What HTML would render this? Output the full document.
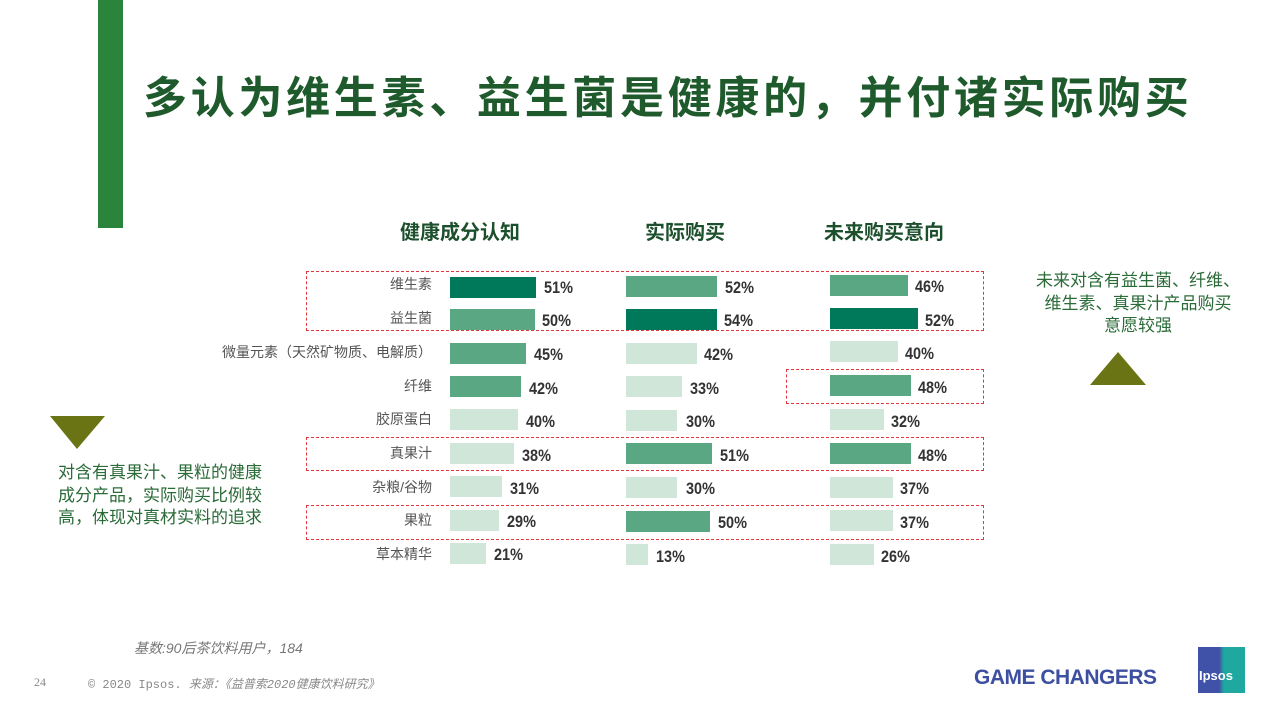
<!DOCTYPE html>
<html><head><meta charset="utf-8"><style>
*{margin:0;padding:0;box-sizing:border-box}
body{width:1280px;height:720px;background:#fff;position:relative;overflow:hidden;font-family:"Liberation Sans","Noto Sans CJK SC",sans-serif}
.a{position:absolute}
.title{left:143px;top:62px;font-size:44px;font-weight:bold;color:#1e5a2c;white-space:nowrap;letter-spacing:3.7px}
.h{top:216px;font-size:20px;font-weight:bold;color:#1c4f2c;white-space:nowrap}
.lab{right:848px;font-size:14px;color:#555;white-space:nowrap;text-align:right}
.bar{height:21px}
.d{background:#00785a}.m{background:#5aa883}.l{background:#d0e6d8}
.v{font-family:"Liberation Sans Narrow","Liberation Sans",sans-serif;font-weight:bold;font-size:17px;color:#333;transform:scaleX(0.85);transform-origin:left}
.box{border:1.5px dashed #e0383c}
.note{font-size:17px;color:#2a6b38;line-height:22.5px}
</style></head><body>
<div class="a" style="left:98px;top:0;width:25px;height:228px;background:#2a843c"></div>
<div class="a title">多认为维生素、益生菌是健康的，并付诸实际购买</div>
<div class="a h" style="left:400px">健康成分认知</div>
<div class="a h" style="left:645px">实际购买</div>
<div class="a h" style="left:824px">未来购买意向</div>

<div class="a box" style="left:306px;top:271px;width:678px;height:60px"></div>
<div class="a box" style="left:786px;top:369px;width:198px;height:35px"></div>
<div class="a box" style="left:306px;top:437px;width:678px;height:34px"></div>
<div class="a box" style="left:306px;top:505px;width:678px;height:35px"></div>

<div class="a lab" style="top:274px">维生素</div>
<div class="a lab" style="top:308px">益生菌</div>
<div class="a lab" style="top:342px">微量元素（天然矿物质、电解质）</div>
<div class="a lab" style="top:376px">纤维</div>
<div class="a lab" style="top:409px">胶原蛋白</div>
<div class="a lab" style="top:443px">真果汁</div>
<div class="a lab" style="top:477px">杂粮/谷物</div>
<div class="a lab" style="top:510px">果粒</div>
<div class="a lab" style="top:544px">草本精华</div>

<div class="a bar d" style="left:450px;top:277px;width:86px"></div><div class="a v" style="left:544px;top:278px">51%</div>
<div class="a bar m" style="left:450px;top:309px;width:85px"></div><div class="a v" style="left:542px;top:311px">50%</div>
<div class="a bar m" style="left:450px;top:343px;width:76px"></div><div class="a v" style="left:534px;top:345px">45%</div>
<div class="a bar m" style="left:450px;top:376px;width:71px"></div><div class="a v" style="left:529px;top:379px">42%</div>
<div class="a bar l" style="left:450px;top:409px;width:68px"></div><div class="a v" style="left:526px;top:412px">40%</div>
<div class="a bar l" style="left:450px;top:443px;width:64px"></div><div class="a v" style="left:522px;top:446px">38%</div>
<div class="a bar l" style="left:450px;top:476px;width:52px"></div><div class="a v" style="left:510px;top:479px">31%</div>
<div class="a bar l" style="left:450px;top:510px;width:49px"></div><div class="a v" style="left:507px;top:512px">29%</div>
<div class="a bar l" style="left:450px;top:543px;width:36px"></div><div class="a v" style="left:494px;top:545px">21%</div>

<div class="a bar m" style="left:626px;top:276px;width:91px"></div><div class="a v" style="left:725px;top:278px">52%</div>
<div class="a bar d" style="left:626px;top:309px;width:91px"></div><div class="a v" style="left:724px;top:311px">54%</div>
<div class="a bar l" style="left:626px;top:343px;width:71px"></div><div class="a v" style="left:704px;top:345px">42%</div>
<div class="a bar l" style="left:626px;top:376px;width:56px"></div><div class="a v" style="left:690px;top:379px">33%</div>
<div class="a bar l" style="left:626px;top:410px;width:51px"></div><div class="a v" style="left:686px;top:412px">30%</div>
<div class="a bar m" style="left:626px;top:443px;width:86px"></div><div class="a v" style="left:720px;top:446px">51%</div>
<div class="a bar l" style="left:626px;top:477px;width:51px"></div><div class="a v" style="left:686px;top:479px">30%</div>
<div class="a bar m" style="left:626px;top:511px;width:84px"></div><div class="a v" style="left:718px;top:513px">50%</div>
<div class="a bar l" style="left:626px;top:544px;width:22px"></div><div class="a v" style="left:656px;top:547px">13%</div>

<div class="a bar m" style="left:830px;top:275px;width:78px"></div><div class="a v" style="left:915px;top:277px">46%</div>
<div class="a bar d" style="left:830px;top:308px;width:88px"></div><div class="a v" style="left:925px;top:311px">52%</div>
<div class="a bar l" style="left:830px;top:341px;width:68px"></div><div class="a v" style="left:905px;top:344px">40%</div>
<div class="a bar m" style="left:830px;top:375px;width:81px"></div><div class="a v" style="left:918px;top:378px">48%</div>
<div class="a bar l" style="left:830px;top:409px;width:54px"></div><div class="a v" style="left:891px;top:412px">32%</div>
<div class="a bar m" style="left:830px;top:443px;width:81px"></div><div class="a v" style="left:918px;top:446px">48%</div>
<div class="a bar l" style="left:830px;top:477px;width:63px"></div><div class="a v" style="left:900px;top:479px">37%</div>
<div class="a bar l" style="left:830px;top:510px;width:63px"></div><div class="a v" style="left:900px;top:513px">37%</div>
<div class="a bar l" style="left:830px;top:544px;width:44px"></div><div class="a v" style="left:881px;top:547px">26%</div>

<div class="a note" style="left:1018px;top:270px;width:240px;text-align:center">未来对含有益生菌、纤维、<br>维生素、真果汁产品购买<br>意愿较强</div>
<svg class="a" style="left:1090px;top:352px" width="56" height="34"><polygon points="28,0 56,33 0,33" fill="#6b7414"/></svg>
<svg class="a" style="left:50px;top:416px" width="56" height="34"><polygon points="0,0 55,0 27,33" fill="#6b7414"/></svg>
<div class="a note" style="left:58px;top:462px;width:240px">对含有真果汁、果粒的健康<br>成分产品，实际购买比例较<br>高，体现对真材实料的追求</div>

<div class="a" style="left:134px;top:638px;font-size:14px;color:#777;font-style:italic">基数:90后茶饮料用户，184</div>
<div class="a" style="left:34px;top:675px;font-size:12px;color:#888;font-family:'Liberation Serif','Noto Serif CJK SC',serif">24</div>
<div class="a" style="left:88px;top:675px;font-size:12px;color:#888;font-family:'Liberation Mono','Noto Sans CJK SC',monospace;white-space:nowrap">© 2020 Ipsos. <i>来源：《益普索2020健康饮料研究》</i></div>
<div class="a" style="left:974px;top:666px;font-size:21px;font-weight:bold;color:#3d4fa0;letter-spacing:-0.5px;white-space:nowrap">GAME CHANGERS</div>
<div class="a" style="left:1198px;top:647px;width:47px;height:46px;background:linear-gradient(90deg,#4051a8 45%,#1fa8a0 55%)"></div>
<div class="a" style="left:1199px;top:668px;font-size:13px;font-weight:bold;color:#fff">Ipsos</div>
</body></html>
